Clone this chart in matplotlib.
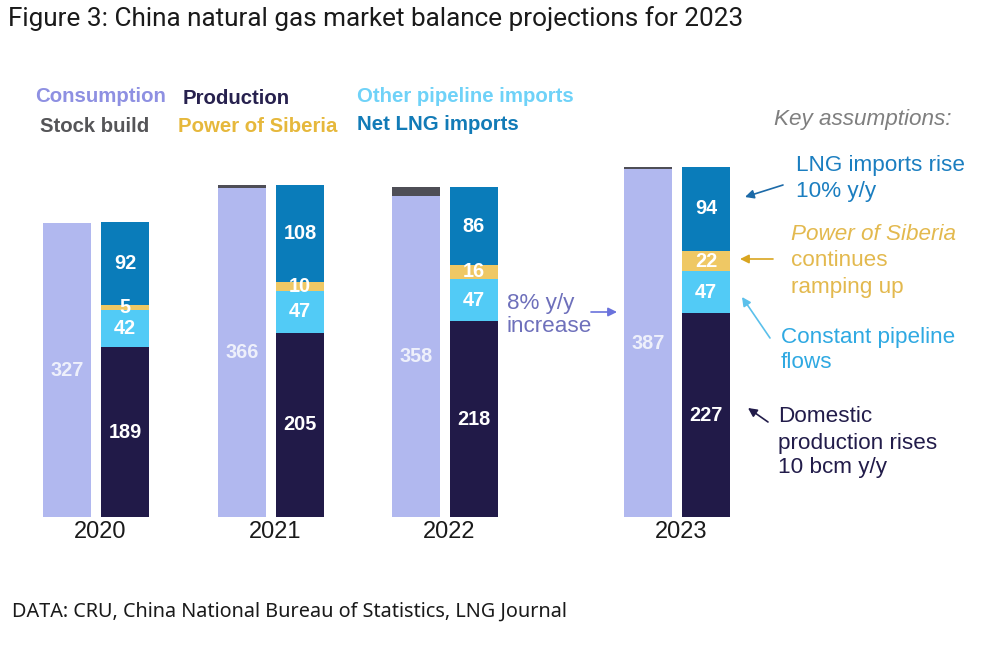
import matplotlib
matplotlib.use("Agg")
import matplotlib.pyplot as plt
from matplotlib.transforms import Affine2D

# ---------------- data ----------------
years = ["2020", "2021", "2022", "2023"]
consumption = [327, 366, 358, 387]
stock_build = [0, 4, 9, 3]
production = [189, 205, 218, 227]
other_pipeline = [42, 47, 47, 47]
power_of_siberia = [5, 10, 16, 22]
net_lng = [92, 108, 86, 94]

# ---------------- style ----------------
C_CONS = "#b1b8ef"
C_STOCK = "#4e4e56"
C_PROD = "#211a48"
C_PIPE = "#52cbf6"
C_POS = "#efc864"
C_LNG = "#0a7cba"

W, H = 1004, 652
FONT = ["Liberation Sans", "DejaVu Sans"]
plt.rcParams["font.family"] = FONT

fig = plt.figure(figsize=(W / 100, H / 100), dpi=100)
ax = fig.add_axes([0, 0, 1, 1])
ax.axis("off")

PX_PER_BCM = 0.898
BASE_PX = 517
ax.set_xlim(0, W)
ax.set_ylim((BASE_PX - H) / PX_PER_BCM, BASE_PX / PX_PER_BCM)

# pixel transform (origin top-left)
pix = Affine2D().scale(1 / W, -1 / H).translate(0, 1) + fig.transFigure

group_x = [96, 271, 445, 677]
offset = 29
bw = 48

cons_x = [g - offset for g in group_x]
sup_x = [g + offset for g in group_x]

# consumption + stock build
ax.bar(cons_x, consumption, width=bw, color=C_CONS, linewidth=0)
ax.bar(cons_x, stock_build, width=bw, bottom=consumption, color=C_STOCK, linewidth=0)

# supply stack
bottom = [0] * len(years)
segments = [(production, C_PROD), (other_pipeline, C_PIPE),
            (power_of_siberia, C_POS), (net_lng, C_LNG)]
for vals, col in segments:
    ax.bar(sup_x, vals, width=bw, bottom=bottom, color=col, linewidth=0)
    for x, b, v in zip(sup_x, bottom, vals):
        ax.text(x, b + v / 2, f"{v}", ha="center", va="center", color="white",
                fontsize=14.3, fontweight="bold")
    bottom = [b + v for b, v in zip(bottom, vals)]

for x, v in zip(cons_x, consumption):
    ax.text(x, v / 2, f"{v}", ha="center", va="center", color="#eef0fb",
            fontsize=14.3, fontweight="bold")

# year labels
for g, y in zip(group_x, years):
    ax.text(g + 4, -17, y, ha="center", va="center", color="#1a1a1a", fontsize=17)


def ptext(x, y, s, **kw):
    kw.setdefault("va", "center")
    kw.setdefault("ha", "left")
    return fig.text(x, y, s, transform=pix, **kw)


# title & footer (fit widths)
renderer = fig.canvas.get_renderer()


def fit_text(x, y, s, target_w, fs, family, color):
    t = ptext(x, y, s, fontsize=fs, family=family, color=color)
    w = t.get_window_extent(renderer).width
    t.set_fontsize(fs * target_w / w)
    return t


fit_text(8, 19, "Figure 3: China natural gas market balance projections for 2023",
         733, 16.5, ["Roboto", "DejaVu Sans"], "#1a1a1a")
fit_text(12, 612, "DATA: CRU, China National Bureau of Statistics, LNG Journal",
         555, 12, ["Noto Sans", "DejaVu Sans"], "#1a1a1a")

# legend texts
LFS = 14.7
ptext(35, 97, "Consumption", color="#8e90e2", fontsize=LFS, fontweight="bold")
ptext(183, 99, "Production", color="#27214e", fontsize=LFS, fontweight="bold")
ptext(357, 97, "Other pipeline imports", color="#6fd2f8", fontsize=LFS, fontweight="bold")
ptext(40, 126, "Stock build", color="#555558", fontsize=LFS, fontweight="bold")
ptext(178, 126, "Power of Siberia", color="#e6b83c", fontsize=LFS, fontweight="bold")
ptext(357, 124, "Net LNG imports", color="#127bb7", fontsize=LFS, fontweight="bold")

# key assumptions
AFS = 16.2
ptext(774, 120, "Key assumptions:", color="#7f7f7f", fontsize=AFS, style="italic")

ptext(796, 165, "LNG imports rise", color="#1b7ec0", fontsize=AFS)
ptext(796, 192, "10% y/y", color="#1b7ec0", fontsize=AFS)

ptext(791, 234, "Power of Siberia", color="#e3b94e", fontsize=AFS, style="italic")
ptext(791, 260, "continues", color="#e3b94e", fontsize=AFS)
ptext(791, 287, "ramping up", color="#e3b94e", fontsize=AFS)

ptext(781, 337, "Constant pipeline", color="#2fa9e2", fontsize=AFS)
ptext(781, 362, "flows", color="#2fa9e2", fontsize=AFS)

ptext(778, 417, "Domestic", color="#221c4a", fontsize=AFS)
ptext(778, 443, "production rises", color="#221c4a", fontsize=AFS)
ptext(778, 468, "10 bcm y/y", color="#221c4a", fontsize=AFS)

ptext(507, 303, "8% y/y", color="#6e70bb", fontsize=AFS)
ptext(507, 327, "increase", color="#6e70bb", fontsize=AFS)


def arrow(x0, y0, x1, y1, color, lw=1.2):
    ax.annotate("", xy=(x1, y1), xytext=(x0, y0), xycoords=pix, textcoords=pix,
                arrowprops=dict(arrowstyle="-|>", color=color, lw=lw,
                                mutation_scale=13, shrinkA=0, shrinkB=0))


arrow(783, 185, 745, 197, "#1c6aa8")
arrow(773, 259, 740, 259, "#d9a520")
arrow(770, 338, 742, 297, "#5bc0eb")
arrow(768, 422, 748, 408, "#221c4a")
arrow(591, 312, 617, 312, "#6a72dc")

fig.savefig("out.png", dpi=100)
